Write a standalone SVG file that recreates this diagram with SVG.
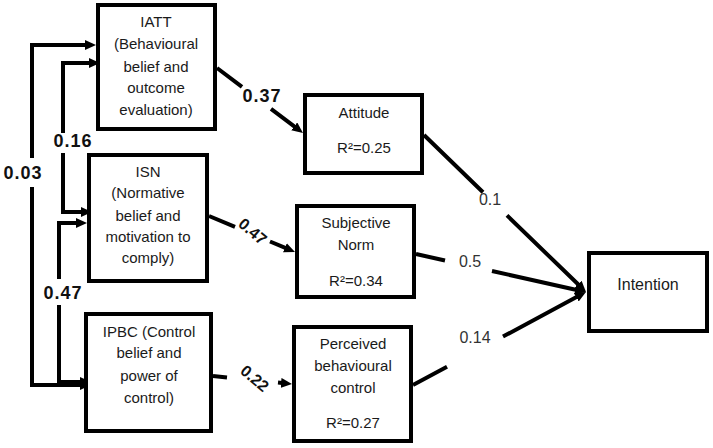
<svg xmlns="http://www.w3.org/2000/svg" width="713" height="448" viewBox="0 0 713 448">
<style>
.box{fill:#fff;stroke:#000;stroke-width:4}
.nt{font-family:"Liberation Sans",Arial,sans-serif;font-size:15px;fill:#1a1a1a;text-anchor:middle}
.it{font-family:"Liberation Sans",Arial,sans-serif;font-size:16px;fill:#1a1a1a;text-anchor:middle}
.ln{fill:none;stroke:#000;stroke-width:4}
.bl{font-family:"Liberation Sans",Arial,sans-serif;font-size:18px;font-weight:bold;fill:#111;text-anchor:middle;letter-spacing:1px}
.rl{font-family:"Liberation Sans",Arial,sans-serif;font-size:16px;font-weight:bold;fill:#111;text-anchor:middle}
.gl{font-family:"Liberation Sans",Arial,sans-serif;font-size:16px;fill:#333;text-anchor:middle}
</style>
<defs>
<marker id="ah" markerUnits="userSpaceOnUse" markerWidth="11" markerHeight="10" refX="5" refY="5" orient="auto-start-reverse">
<path d="M0,0 L11,5 L0,10 z" fill="#000"/>
</marker>
</defs>
<g id="connectors">
<path class="ln" d="M90,45 L32,45 L32,158 M32,187 L32,385 L85,385" marker-start="url(#ah)" marker-end="url(#ah)"/>
<path class="ln" d="M94,63 L63,63 L63,133 M63,153 L63,212 L86,212" marker-start="url(#ah)" marker-end="url(#ah)"/>
<path class="ln" d="M81,223 L59,223 L59,279 M59,305 L59,382 L85,382" marker-start="url(#ah)" marker-end="url(#ah)"/>
<path class="ln" d="M217,68 L242,86.9 M271,108.8 L298.2,129.4" marker-end="url(#ah)"/>
<path class="ln" d="M209,216 L235,226.9 M270,241.5 L289.5,249.7" marker-end="url(#ah)"/>
<path class="ln" d="M213,376 L227,377.4 M278,382.6 L286,383.4" marker-end="url(#ah)"/>
<path class="ln" d="M424,135 L483,192.2 M507,215.4 L581.7,287.8" marker-end="url(#ah)"/>
<path class="ln" d="M416,254 L445,260.5 M492,271 L580.1,290.7" marker-end="url(#ah)"/>
<path class="ln" d="M413,385 L447,366.7 M503,336.6 L580.7,294.8" marker-end="url(#ah)"/>
<text class="bl" x="23" y="179">0.03</text>
<text class="bl" x="73" y="147">0.16</text>
<text class="bl" x="63" y="299">0.47</text>
<text class="bl" x="262" y="102">0.37</text>
<text class="rl" transform="translate(253,231) rotate(40)" x="0" y="6">0.47</text>
<text class="rl" transform="translate(255,378) rotate(40)" x="0" y="6">0.22</text>
<text class="gl" x="490" y="205">0.1</text>
<text class="gl" x="470" y="267">0.5</text>
<text class="gl" x="475" y="343">0.14</text>
</g>
<g id="IATT">
<rect class="box" x="98" y="5" width="117" height="124"/>
<text class="nt" x="156" y="27">IATT</text>
<text class="nt" x="156" y="49">(Behavioural</text>
<text class="nt" x="156" y="72">belief and</text>
<text class="nt" x="156" y="93">outcome</text>
<text class="nt" x="156" y="115">evaluation)</text>
</g>
<g id="ISN">
<rect class="box" x="89" y="155" width="118" height="126"/>
<text class="nt" x="148" y="177">ISN</text>
<text class="nt" x="148" y="198">(Normative</text>
<text class="nt" x="148" y="221">belief and</text>
<text class="nt" x="148" y="242">motivation to</text>
<text class="nt" x="148" y="263">comply)</text>
</g>
<g id="IPBC">
<rect class="box" x="86" y="314" width="125" height="117"/>
<text class="nt" x="149" y="337">IPBC (Control</text>
<text class="nt" x="149" y="358">belief and</text>
<text class="nt" x="149" y="381">power of</text>
<text class="nt" x="149" y="403">control)</text>
</g>
<g id="Attitude">
<rect class="box" x="305" y="95" width="117" height="78"/>
<text class="nt" x="364" y="118">Attitude</text>
<text class="nt" x="364" y="153">R²=0.25</text>
</g>
<g id="SubjectiveNorm">
<rect class="box" x="297" y="206" width="117" height="91"/>
<text class="nt" x="356" y="228">Subjective</text>
<text class="nt" x="356" y="250">Norm</text>
<text class="nt" x="356" y="286">R²=0.34</text>
</g>
<g id="PBC">
<rect class="box" x="294" y="327" width="117" height="114"/>
<text class="nt" x="353" y="349">Perceived</text>
<text class="nt" x="353" y="371">behavioural</text>
<text class="nt" x="353" y="393">control</text>
<text class="nt" x="353" y="428">R²=0.27</text>
</g>
<g id="Intention">
<rect class="box" x="589" y="253" width="118" height="78"/>
<text class="it" x="648" y="290">Intention</text>
</g>
</svg>
